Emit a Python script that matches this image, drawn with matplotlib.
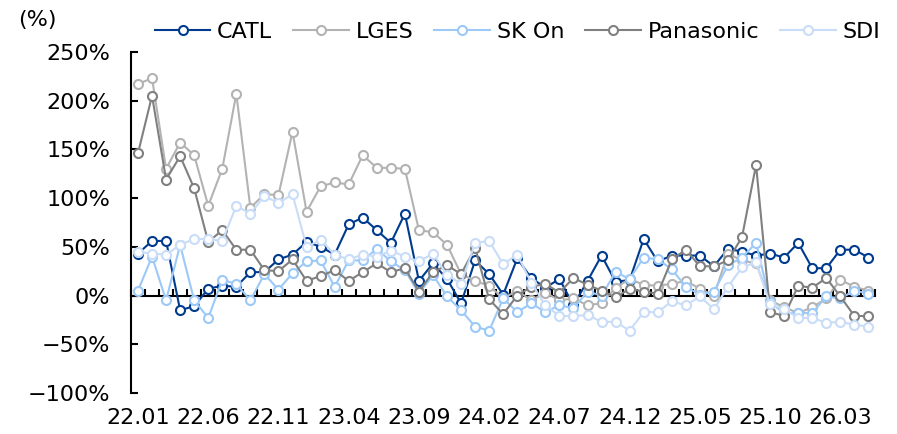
import numpy as np
import matplotlib.pyplot as plt
from matplotlib.ticker import FuncFormatter, MultipleLocator

plt.rcParams["font.family"] = ["DejaVu Sans"]

# monthly, 22.01 .. 26.05 (%)
months = [f"{22 + i // 12}.{i % 12 + 1:02d}" for i in range(53)]

catl = [43, 56, 56, -15, -11, 7, 10, 9, 24, 24,
        37, 42, 55, 50, 42, 73, 80, 67, 54, 84,
        15, 33, 17, -8, 36, 22, 1, 38, 18, 8,
        17, -10, 15, 41, 14, 16, 58, 35, 41, 41,
        41, 30, 48, 45, 41, 43, 39, 54, 28, 28,
        47, 47, 39]
lges = [217, 223, 130, 157, 144, 92, 130, 207, 90, 104,
        103, 168, 86, 112, 116, 114, 144, 131, 131, 130,
        67, 65, 52, 22, 15, 10, -3, 5, -5, 3,
        -5, -3, -10, -8, 8, 17, 11, 10, 12, 15,
        7, 0, 43, 36, 33, -5, -12, -18, -12, -3,
        16, 9, 5]
sk_on = [5, 40, -5, 52, -5, -23, 16, 12, -5, 22,
         6, 23, 35, 36, 9, 36, 36, 48, 35, 26,
         2, 21, -1, -15, -32, -36, -3, -17, -8, -17,
         -10, -13, 4, 0, 24, 17, 39, 37, 27, 9,
         1, 4, 31, 39, 54, -7, -18, -18, -18, -1,
         -3, 5, 2]
panasonic = [146, 205, 119, 143, 110, 55, 67, 47, 47, 26,
             25, 37, 15, 20, 26, 15, 24, 33, 24, 28,
             4, 24, 31, 22, 49, -4, -19, 0, 9, 12,
             3, 18, 11, 5, -2, 7, 4, 2, 37, 47,
             30, 30, 36, 60, 134, -17, -21, 10, 8, 18,
             -1, -21, -21]
sdi = [45, 43, 42, 52, 58, 58, 56, 92, 84, 102,
       95, 104, 50, 57, 42, 37, 42, 40, 46, 40,
       35, 43, 21, 12, 54, 56, 32, 42, 13, -10,
       -21, -21, -20, -27, -27, -36, -17, -17, -6, -10,
       -1, -14, 9, 29, 34, -9, -14, -23, -23, -28,
       -27, -30, -32]

series = [("CATL", catl, "#003b8e"),
          ("LGES", lges, "#b3b3b3"),
          ("SK On", sk_on, "#9cc9f7"),
          ("Panasonic", panasonic, "#808080"),
          ("SDI", sdi, "#c9ddf8")]

fig = plt.figure(figsize=(8.97, 4.34), dpi=100)
ax = fig.add_axes([0.146, 0.0945, 0.83, 0.786])

x = np.arange(len(months))
for name, vals, col in series:
    ax.plot(x, vals, color=col, lw=1.5, marker="o", ms=6.5,
            mfc="white", mec=col, mew=1.5, label=name)

ax.set_xlim(-0.5, len(months) - 0.5)
ax.set_ylim(-100, 250)
ax.yaxis.set_major_locator(MultipleLocator(50))
ax.yaxis.set_major_formatter(FuncFormatter(lambda v, p: f"{v:.0f}%".replace("-", "\u2212")))
ax.tick_params(axis="y", direction="in", length=5, width=1.5, pad=15, labelsize=16)

ax.set_xticks(x[::5])
ax.set_xticklabels(months[::5])
ax.tick_params(axis="x", length=0, pad=11, labelsize=16)

for s in ["top", "right", "bottom"]:
    ax.spines[s].set_visible(False)
ax.spines["left"].set_linewidth(1.5)

# category axis crossing at 0, ticks between months
zero = ax.secondary_xaxis(100 / 350)
zero.spines["bottom"].set_linewidth(1.5)
zero.set_xticks(np.arange(-0.5, len(months), 1))
zero.tick_params(direction="in", length=5, width=1.5, labelbottom=False)

fig.legend(loc="center", bbox_to_anchor=(0.577, 0.926), ncol=5, frameon=False,
           fontsize=16, handlelength=2.5, handletextpad=0.3, columnspacing=0.95)
fig.text(0.02, 0.955, "(%)", fontsize=16, va="center")

fig.savefig("out.png", dpi=100)
